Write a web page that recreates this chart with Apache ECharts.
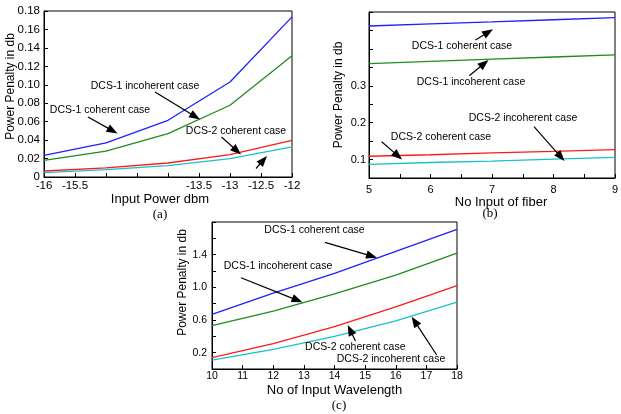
<!DOCTYPE html>
<html>
<head>
<meta charset="utf-8">
<script src="https://cdn.jsdelivr.net/npm/echarts@6/dist/echarts.min.js"></script>
<style>
  html, body { margin: 0; padding: 0; background: #fff; }
  #chart { width: 621px; height: 414px; }
</style>
</head>
<body>
<div id="chart"></div>
<script>
// ---- Panel (a): power penalty vs input power ----
var aInputPower = [-16, -15, -14, -13, -12];
var aDcs1Coherent   = [0.0235, 0.0369, 0.0615, 0.1030, 0.1736];
var aDcs1Incoherent = [0.0180, 0.0280, 0.0470, 0.0778, 0.1316];
var aDcs2Coherent   = [0.0065, 0.0098, 0.0152, 0.0242, 0.0398];
var aDcs2Incoherent = [0.0047, 0.0080, 0.0123, 0.0199, 0.0326];
var aXTickLabels = [-16, -15.5, -13.5, -13, -12.5, -12];

// ---- Panel (b): power penalty vs number of input fibers ----
var bFibers = [5, 6, 7, 8, 9];
var bDcs1Coherent   = [0.462, 0.468, 0.473, 0.479, 0.485];
var bDcs1Incoherent = [0.360, 0.366, 0.372, 0.378, 0.384];
var bDcs2Coherent   = [0.109, 0.113, 0.118, 0.122, 0.127];
var bDcs2Incoherent = [0.087, 0.092, 0.096, 0.101, 0.106];
var bYTickLabels = [0.1, 0.2, 0.3];
var bXTickLabels = [5, 6, 7, 8, 9];

// ---- Panel (c): power penalty vs number of input wavelengths ----
var cWavelengths = [10, 12, 14, 16, 18];
var cDcs1Coherent   = [0.67, 0.93, 1.17, 1.44, 1.71];
var cDcs1Incoherent = [0.53, 0.71, 0.92, 1.15, 1.42];
var cDcs2Coherent   = [0.14, 0.31, 0.52, 0.76, 1.02];
var cDcs2Incoherent = [0.11, 0.24, 0.40, 0.59, 0.82];
var cYTickLabels = [0.2, 0.6, 1.0, 1.4];

var seriesNames = ['DCS-1 coherent case', 'DCS-1 incoherent case',
                   'DCS-2 coherent case', 'DCS-2 incoherent case'];
var seriesColors = ['#1f1fff', '#1e8c1e', '#ff1a1a', '#18c0c8'];

var FONT = '"Liberation Sans", Arial, sans-serif';

function inList(list, v) {
  for (var i = 0; i < list.length; i++) {
    if (Math.abs(list[i] - v) < 1e-6) return true;
  }
  return false;
}

function zip(xs, ys) {
  return xs.map(function (x, i) { return [x, ys[i]]; });
}

function baseXAxis(gridIndex) {
  return {
    type: 'value', gridIndex: gridIndex, splitLine: { show: false },
    axisLine: { lineStyle: { color: '#000', width: 1 } },
    axisTick: { inside: true, length: 4, lineStyle: { color: '#000' } },
    nameLocation: 'middle',
    nameTextStyle: { fontFamily: FONT, fontSize: 13, color: '#000' },
    axisLabel: { fontFamily: FONT, color: '#000', showMinLabel: true, showMaxLabel: true, hideOverlap: false }
  };
}
function baseYAxis(gridIndex) {
  return {
    type: 'value', gridIndex: gridIndex, splitLine: { show: false },
    axisLine: { lineStyle: { color: '#000', width: 1 } },
    axisTick: { inside: true, length: 4, lineStyle: { color: '#000' } },
    nameLocation: 'middle', nameRotate: 90,
    nameTextStyle: { fontFamily: FONT, fontSize: 12, color: '#000' },
    axisLabel: { fontFamily: FONT, color: '#000', showMinLabel: true, showMaxLabel: true, hideOverlap: false }
  };
}
function merge(a, b) {
  for (var k in b) {
    if (b[k] && typeof b[k] === 'object' && !Array.isArray(b[k]) && a[k] && typeof a[k] === 'object') {
      merge(a[k], b[k]);
    } else {
      a[k] = b[k];
    }
  }
  return a;
}

var gridBase = { show: true, borderColor: '#000', borderWidth: 1, backgroundColor: 'transparent',
                 containLabel: false, outerBoundsMode: 'none' };

var grids = [
  merge({ left: 44, top: 11, width: 248, height: 166 }, gridBase),
  merge({ left: 369, top: 12, width: 246, height: 166 }, gridBase),
  merge({ left: 212, top: 222, width: 245, height: 147 }, gridBase)
];

var xAxes = [
  merge(baseXAxis(0), {
    min: -16, max: -12, interval: 0.5, name: 'Input Power dbm', nameGap: 9,
    nameTextStyle: { padding: [0, 16, 0, 0] },
    axisLabel: {
      fontSize: 11.5, margin: 3,
      formatter: function (v) { return inList(aXTickLabels, v) ? String(v) : ''; }
    }
  }),
  merge(baseXAxis(1), {
    min: 5, max: 9, interval: 0.5, name: 'No Input of fiber', nameGap: 12,
    nameTextStyle: { padding: [0, 0, 0, 18] },
    axisLabel: {
      fontSize: 11, margin: 6,
      formatter: function (v) { return inList(bXTickLabels, v) ? String(v) : ''; }
    }
  }),
  merge(baseXAxis(2), {
    min: 10, max: 18, interval: 1, name: 'No of Input Wavelength', nameGap: 15,
    axisLabel: { fontSize: 10.5, margin: 2 }
  })
];

var yAxes = [
  merge(baseYAxis(0), {
    min: 0, max: 0.18, interval: 0.02, name: 'Power Penalty in db', nameGap: 27,
    nameMoveOverlap: false,
    nameTextStyle: { padding: [0, 0, 0, 15] },
    axisLabel: {
      fontSize: 11.5, margin: 4,
      formatter: function (v) { return Math.abs(v) < 1e-9 ? '0' : v.toFixed(2); }
    }
  }),
  merge(baseYAxis(1), {
    min: 0.05, max: 0.5, interval: 0.05, name: 'Power Penalty in db', nameGap: 24,
    axisLabel: {
      fontSize: 11, margin: 3,
      formatter: function (v) { return inList(bYTickLabels, v) ? v.toFixed(1) : ''; }
    }
  }),
  merge(baseYAxis(2), {
    min: 0, max: 1.8, interval: 0.2, name: 'Power Penalty in db', nameGap: 20,
    nameTextStyle: { padding: [0, 0, 0, 26] },
    axisLabel: {
      fontSize: 10.5, margin: 5,
      formatter: function (v) { return inList(cYTickLabels, v) ? v.toFixed(1) : ''; }
    }
  })
];

var panels = [
  { xs: aInputPower, ys: [aDcs1Coherent, aDcs1Incoherent, aDcs2Coherent, aDcs2Incoherent] },
  { xs: bFibers,     ys: [bDcs1Coherent, bDcs1Incoherent, bDcs2Coherent, bDcs2Incoherent] },
  { xs: cWavelengths, ys: [cDcs1Coherent, cDcs1Incoherent, cDcs2Coherent, cDcs2Incoherent] }
];

var series = [];
panels.forEach(function (p, gi) {
  p.ys.forEach(function (ys, si) {
    series.push({
      type: 'line', name: seriesNames[si], xAxisIndex: gi, yAxisIndex: gi,
      data: zip(p.xs, ys), symbol: 'none', smooth: false, silent: true,
      lineStyle: { color: seriesColors[si], width: 1.3 },
      z: 3
    });
  });
});

// Annotation callouts: label text and an arrow pointing at a curve.
var callouts = [
  { text: 'DCS-1 incoherent case', at: [145, 86],  arrow: [155, 92, 200, 119.5] },
  { text: 'DCS-1 coherent case',   at: [100, 110], arrow: [88, 117, 117.5, 133.5] },
  { text: 'DCS-2 coherent case',   at: [236, 131], arrow: [221.5, 137, 241, 154.5] },
  { text: '',                      at: null,       arrow: [256, 168.5, 267, 156] },

  { text: 'DCS-1 coherent case',   at: [462, 46],  arrow: [475.5, 40, 493, 29.3] },
  { text: 'DCS-1 incoherent case', at: [471, 82],  arrow: [469.3, 75.7, 488.5, 60] },
  { text: 'DCS-2 incoherent case', at: [523, 118.5], arrow: [534, 126.7, 564.5, 161] },
  { text: 'DCS-2 coherent case',   at: [441, 137], arrow: [381.7, 141.7, 402, 159.5] },

  { text: 'DCS-1 coherent case',   at: [314.5, 230], arrow: [325, 242.3, 377, 257.7] },
  { text: 'DCS-1 incoherent case', at: [278, 266.5], arrow: [241, 277.7, 302.5, 302.3] },
  { text: 'DCS-2 coherent case',   at: [355.3, 347.5], arrow: [355.5, 341, 347.7, 325] },
  { text: 'DCS-2 incoherent case', at: [391, 359.5], arrow: [436.7, 355, 411.7, 316.7] }
];

function arrowElements(a) {
  var x1 = a[0], y1 = a[1], x2 = a[2], y2 = a[3];
  var dx = x2 - x1, dy = y2 - y1;
  var len = Math.sqrt(dx * dx + dy * dy);
  var ux = dx / len, uy = dy / len;
  var headLen = 11, headHalf = 4.2;
  var bx = x2 - ux * headLen, by = y2 - uy * headLen;
  var px = -uy, py = ux;
  return [
    { type: 'line', silent: true, z: 10,
      shape: { x1: x1, y1: y1, x2: bx + ux * 1, y2: by + uy * 1 },
      style: { stroke: '#000', lineWidth: 1.2 } },
    { type: 'polygon', silent: true, z: 10,
      shape: { points: [[x2, y2], [bx + px * headHalf, by + py * headHalf], [bx - px * headHalf, by - py * headHalf]] },
      style: { fill: '#000' } }
  ];
}

var graphics = [];
callouts.forEach(function (c) {
  if (c.text) {
    graphics.push({
      type: 'text', silent: true, z: 10, x: c.at[0], y: c.at[1],
      style: { text: c.text, fill: '#000', font: '10.5px ' + FONT, align: 'center', verticalAlign: 'middle' }
    });
  }
  graphics = graphics.concat(arrowElements(c.arrow));
});

// Panel captions
[['(a)', 160, 215], ['(b)', 490, 214], ['(c)', 339, 406]].forEach(function (cap) {
  graphics.push({
    type: 'text', silent: true, x: cap[1], y: cap[2],
    style: { text: cap[0], fill: '#000', font: '13px "Liberation Serif", "Times New Roman", serif',
             align: 'center', verticalAlign: 'middle' }
  });
});

var chart = echarts.init(document.getElementById('chart'), null, { renderer: 'canvas' });
chart.setOption({
  animation: false,
  backgroundColor: '#fff',
  grid: grids,
  xAxis: xAxes,
  yAxis: yAxes,
  series: series,
  graphic: graphics
});
</script>
</body>
</html>
